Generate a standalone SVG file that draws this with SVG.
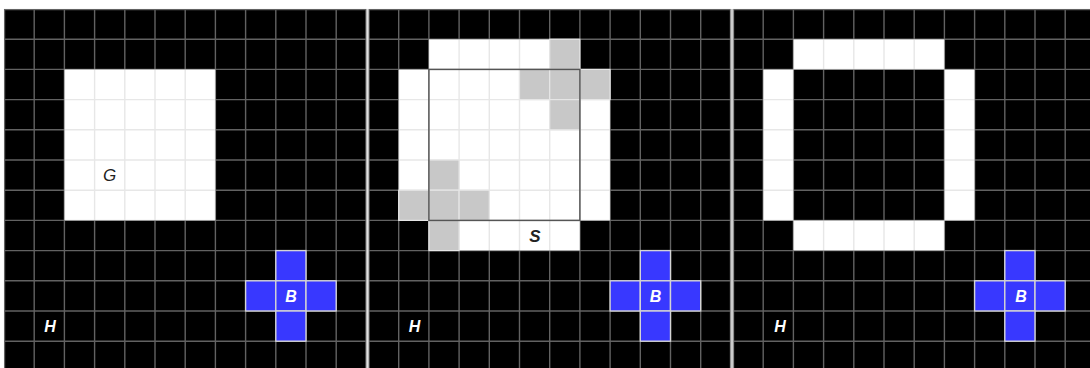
<svg xmlns="http://www.w3.org/2000/svg" xmlns:xlink="http://www.w3.org/1999/xlink" width="1090" height="368" viewBox="0 0 1090 368">
<style>
.bg{fill:#000}
.wh{fill:#fff}
.gr{fill:#c8c8c8;stroke:#e6e6e6;stroke-width:1.2}
.grid{fill:none;stroke:#cdcdcd;stroke-opacity:0.48;stroke-width:1.4}
.blue{fill:#3838ff;stroke:#d4d4d4;stroke-width:1.4}
.box{fill:none;stroke:#555;stroke-width:1.5}
.sep{fill:#b4b4b4}
.sepc{stroke:#e2e2e2;stroke-width:1}
.lw{font-family:"Liberation Sans",Arial,sans-serif;font-style:italic;font-weight:bold;font-size:16px;fill:#fff;text-anchor:middle}
.lk{font-family:"Liberation Sans",Arial,sans-serif;font-style:italic;font-size:17px;fill:#222;text-anchor:middle}
</style>
<defs>
<path id="gridlines" class="grid" d="M0.5 0V362.4M30.2 0V362.4M60.4 0V362.4M90.6 0V362.4M120.8 0V362.4M151 0V362.4M181.2 0V362.4M211.4 0V362.4M241.6 0V362.4M271.8 0V362.4M302 0V362.4M332.2 0V362.4M362 0V362.4M0 0.5H362.4M0 30.2H362.4M0 60.4H362.4M0 90.6H362.4M0 120.8H362.4M0 151H362.4M0 181.2H362.4M0 211.4H362.4M0 241.6H362.4M0 271.8H362.4M0 302H362.4M0 332.2H362.4M0 362.4H362.4"/>
<polygon id="outer" points="60.4,30.2 211.4,30.2 211.4,60.4 241.6,60.4 241.6,211.4 211.4,211.4 211.4,241.6 60.4,241.6 60.4,211.4 30.2,211.4 30.2,60.4 60.4,60.4"/>
<g id="cross">
<rect class="blue" x="271.8" y="241.6" width="30.2" height="30.2"/>
<rect class="blue" x="241.6" y="271.8" width="30.2" height="30.2"/>
<rect class="blue" x="271.8" y="271.8" width="30.2" height="30.2"/>
<rect class="blue" x="302" y="271.8" width="30.2" height="30.2"/>
<rect class="blue" x="271.8" y="302" width="30.2" height="30.2"/>
</g>
</defs>
<rect width="1090" height="368" fill="#fff"/>

<g id="panel1" transform="translate(4,9)">
<rect class="bg" width="362.4" height="362.4"/>
<g id="nodeG">
<rect class="wh" x="60.4" y="60.4" width="151" height="151"/>
</g>
<use xlink:href="#gridlines"/>
<text class="lk" x="105.7" y="172">G</text>
<g id="nodeB1"><use xlink:href="#cross"/><text class="lw" x="287" y="293">B</text></g>
<g id="nodeH1"><text class="lw" x="46" y="323">H</text></g>
</g>

<g id="panel2" transform="translate(368.5,9)">
<rect class="bg" width="362.4" height="362.4"/>
<g id="nodeS">
<use xlink:href="#outer" class="wh"/>
</g>
<use xlink:href="#gridlines"/>
<g id="grayCells">
<rect class="gr" x="181.2" y="30.2" width="30.2" height="30.2"/>
<rect class="gr" x="151" y="60.4" width="30.2" height="30.2"/>
<rect class="gr" x="181.2" y="60.4" width="30.2" height="30.2"/>
<rect class="gr" x="211.4" y="60.4" width="30.2" height="30.2"/>
<rect class="gr" x="181.2" y="90.6" width="30.2" height="30.2"/>
<rect class="gr" x="60.4" y="151" width="30.2" height="30.2"/>
<rect class="gr" x="30.2" y="181.2" width="30.2" height="30.2"/>
<rect class="gr" x="60.4" y="181.2" width="30.2" height="30.2"/>
<rect class="gr" x="90.6" y="181.2" width="30.2" height="30.2"/>
<rect class="gr" x="60.4" y="211.4" width="30.2" height="30.2"/>
</g>
<rect class="box" x="60.4" y="60.4" width="151" height="151"/>
<text class="lk" x="166.5" y="233" font-weight="bold" fill="#111">S</text>
<g id="nodeB2"><use xlink:href="#cross"/><text class="lw" x="287" y="293">B</text></g>
<g id="nodeH2"><text class="lw" x="46" y="323">H</text></g>
</g>

<g id="panel3" transform="translate(733,9)">
<rect class="bg" width="362.4" height="362.4"/>
<g id="nodeRing">
<use xlink:href="#outer" class="wh"/>
<rect class="bg" x="60.4" y="60.4" width="151" height="151"/>
</g>
<use xlink:href="#gridlines"/>
<g id="nodeB3"><use xlink:href="#cross"/><text class="lw" x="288" y="293">B</text></g>
<g id="nodeH3"><text class="lw" x="47" y="323">H</text></g>
</g>

<g id="separators">
<rect class="sep" x="366" y="9" width="3" height="359"/>
<line class="sepc" x1="367.5" y1="9" x2="367.5" y2="368"/>
<rect class="sep" x="730.5" y="9" width="3" height="359"/>
<line class="sepc" x1="732" y1="9" x2="732" y2="368"/>
</g>
<g id="connectors"/>
</svg>
